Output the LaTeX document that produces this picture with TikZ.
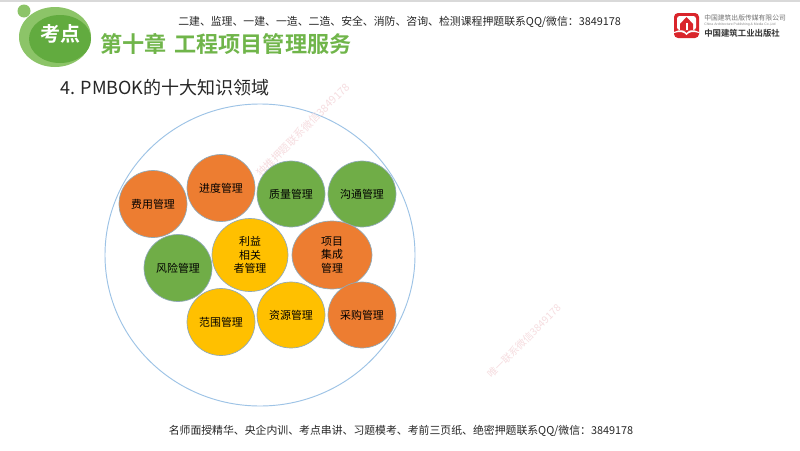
\documentclass[tikz,border=0pt]{standalone}
\usepackage{fontspec}
\setmainfont{Liberation Sans}
\newfontfamily\cjk{Noto Sans CJK SC}
\newfontfamily\cjkb{Noto Sans CJK SC Bold}
\usetikzlibrary{shapes.geometric}
\definecolor{ballorange}{HTML}{ED7D31}
\definecolor{ballgreen}{HTML}{70AD47}
\definecolor{ballyellow}{HTML}{FFC000}
\definecolor{ringblue}{HTML}{9DC3E6}
\definecolor{ballrim}{HTML}{8FA9B8}
\definecolor{logogreen}{HTML}{8CC468}
\definecolor{logodark}{HTML}{62AB3F}
\definecolor{titlegreen}{HTML}{70B54A}
\definecolor{logored}{HTML}{D9252B}
\definecolor{wmpink}{HTML}{F6DDE0}
\tikzset{
  x=0.75pt,y=-0.75pt,
  bubble/.style n args={4}{shape=ellipse,minimum width=#1*0.75pt,minimum height=#2*0.75pt,inner sep=0pt,fill=#3,draw=#4,line width=0.5pt,font=\cjk\fontsize{8.2}{10.2}\selectfont,text=black,align=center},
  wmark/.style={rotate=45,font=\cjk\fontsize{#1}{8}\selectfont,text=wmpink},
  hdr/.style={font=\cjk\fontsize{8.15}{9}\selectfont,text=black!85,inner sep=0pt}
}
\begin{document}
\begin{tikzpicture}
\useasboundingbox (0,0) rectangle (800,450);
\fill[white] (0,0) rectangle (800,450);
\fill[black!15] (0,0) rectangle (800,2);
% badge
\fill[logogreen] (24,11) circle[radius=6.5];
\fill[logogreen] (55,37) ellipse[x radius=36,y radius=30];
\fill[logodark] (60,39) ellipse[x radius=31,y radius=24];
\node[font=\cjkb\fontsize{15}{17}\selectfont,text=white,inner sep=0pt] (badge) at (60,34) {考点};
\node[font=\cjkb\fontsize{16.6}{18}\selectfont,text=titlegreen,anchor=west,inner sep=0pt] (chapter) at (100,44) {第十章\hspace{0.35em}工程项目管理服务};
\node[hdr,anchor=west] (contact) at (178,22) {二建、监理、一建、一造、二造、安全、消防、咨询、检测课程押题联系QQ/微信：3849178};
% publisher logo
\fill[logored,rounded corners=3] (674,13) rectangle (699,38);
\fill[white,rounded corners=2] (677,16) rectangle (696,30);
\fill[logored] (686.5,17) -- (680,24) -- (680,30) -- (693,30) -- (693,24) -- cycle;
\fill[white] (685.5,23) rectangle (687.5,30);
\fill[white] (674,32) .. controls (680,29) and (684,30) .. (686.5,33) .. controls (689,30) and (693,29) .. (699,32) -- (699,33) .. controls (693,31) and (689,32) .. (686.5,35) .. controls (684,32) and (680,31) .. (674,33) -- cycle;
\node[font=\cjk\fontsize{5.1}{6}\selectfont,text=black!55,anchor=west,inner sep=0pt] (pub1) at (704,18) {中国建筑出版传媒有限公司};
\node[font=\fontsize{2.6}{3}\selectfont,text=black!45,anchor=west,inner sep=0pt] (pub2) at (704,25) {China Architecture Publishing \& Media Co.,Ltd};
\node[font=\cjkb\fontsize{6.3}{7}\selectfont,text=black!80,anchor=west,inner sep=0pt] (pub3) at (704,33) {中国建筑工业出版社};
% heading
\node[font=\cjk\fontsize{13.5}{15}\selectfont,text=black!85,anchor=west,inner sep=0pt] (head) at (60,88) {4. PMBOK的十大知识领域};
% ring
\node[shape=ellipse,minimum width=232.5pt,minimum height=226.5pt,inner sep=0pt,draw=ringblue,line width=0.7pt] (ring) at (260,255) {};
% watermarks
\node[wmark=8] (wm1) at (303,130) {独推押题联系微信3849178};
\node[wmark=7.5] (wm2) at (524,341) {唯一联系微信3849178};
% bubbles
\node[bubble={68}{67}{ballorange}{ballrim}] (fy) at (153,204) {费用管理};
\node[bubble={68}{67}{ballorange}{ballrim}] (jd) at (221,188) {进度管理};
\node[bubble={68}{66}{ballgreen}{ballrim}] (zl) at (291,194) {质量管理};
\node[bubble={68}{66}{ballgreen}{ballrim}] (gt) at (362,194) {沟通管理};
\node[bubble={68}{67}{ballgreen}{ballrim}] (fx) at (178,268) {风险管理};
\node[bubble={76}{73}{ballyellow}{ballrim}] (lx) at (250,255) {利益\\相关\\者管理};
\node[bubble={80}{68}{ballorange}{ballrim}] (xm) at (332,255) {项目\\集成\\管理};
\node[bubble={68}{67}{ballyellow}{ballrim}] (fw) at (221,322) {范围管理};
\node[bubble={68}{66}{ballyellow}{ballrim}] (zy) at (291,315) {资源管理};
\node[bubble={68}{66}{ballorange}{ballrim}] (cg) at (362,315) {采购管理};
% footer
\node[hdr] (foot) at (401,431) {名师面授精华、央企内训、考点串讲、习题模考、考前三页纸、绝密押题联系QQ/微信：3849178};
\end{tikzpicture}
\end{document}
